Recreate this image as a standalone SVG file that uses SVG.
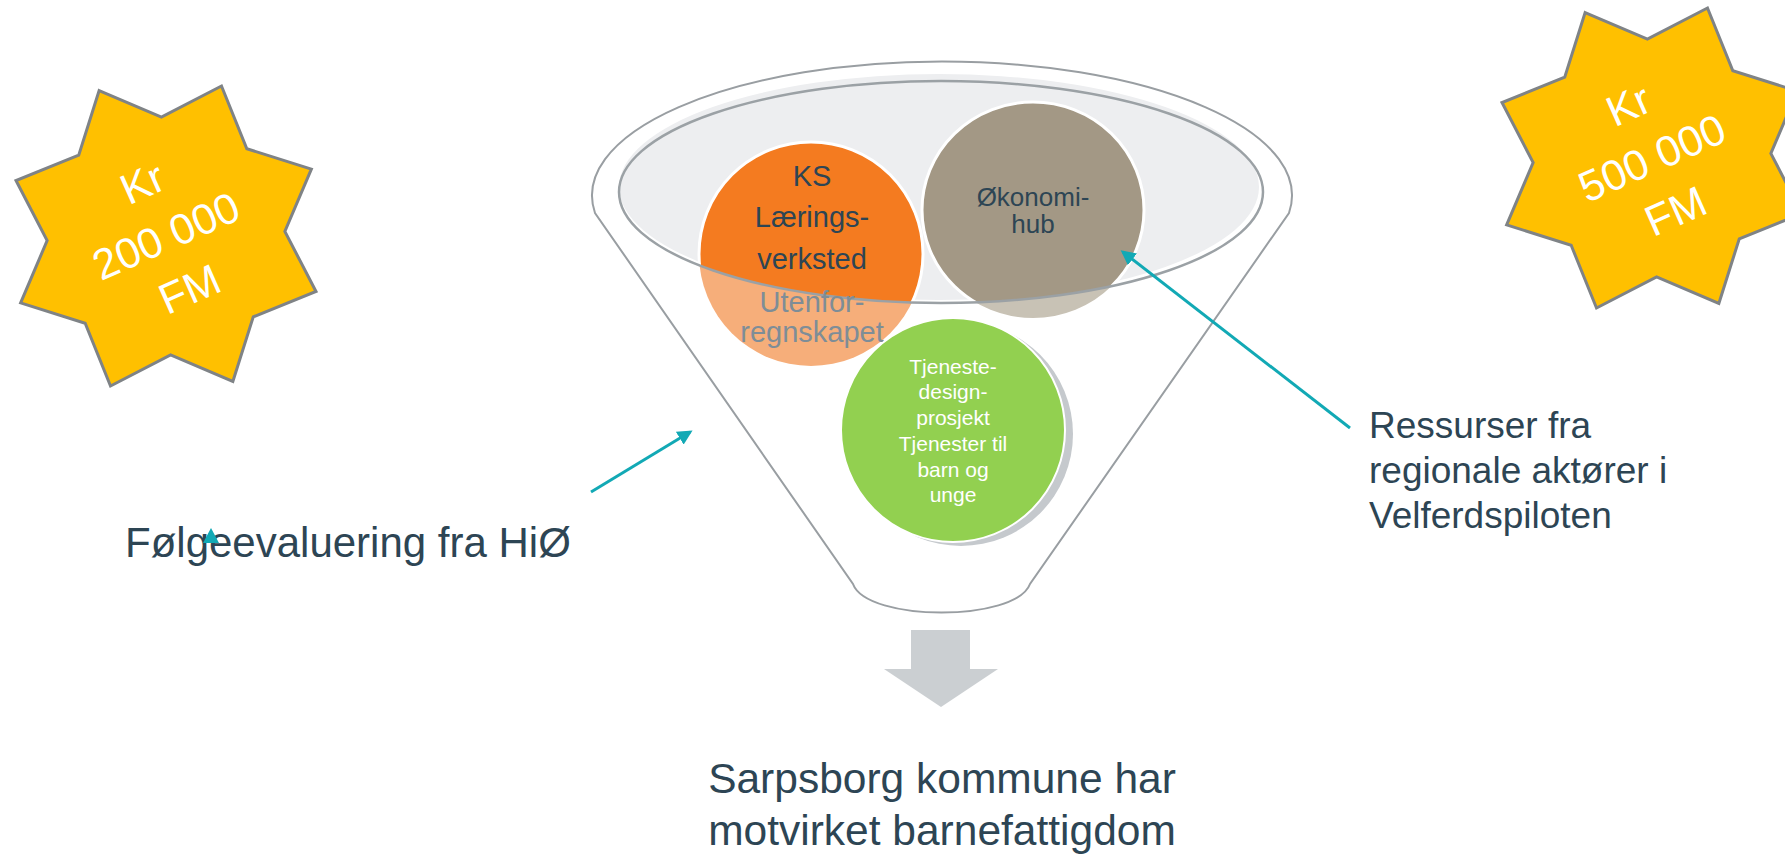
<svg xmlns="http://www.w3.org/2000/svg" width="1785" height="855" viewBox="0 0 1785 855">
<style>
.t{font-family:"Liberation Sans",Arial,sans-serif;}
.dark{fill:#2D4554;}
.star{fill:#FFC000;stroke:#7F8386;stroke-width:3;stroke-linejoin:miter;}
.startxt{fill:#FFFFFF;font-size:43px;text-anchor:middle;}
.teal{stroke:#12A9B5;stroke-width:3;fill:none;}
</style>
<defs>
<marker id="ah" viewBox="0 0 10 10" refX="8" refY="5" markerWidth="5" markerHeight="5" orient="auto" markerUnits="strokeWidth">
<path d="M0,0 L10,5 L0,10 z" fill="#12A9B5"/>
</marker>
<clipPath id="rim"><ellipse cx="941" cy="192" rx="322" ry="111"/></clipPath>
</defs>
<rect width="1785" height="855" fill="#FFFFFF"/>

<g id="funnel">
<path d="M595,213 A350,134 0 1 1 1289,213 L1030,584 C1016,622 867,622 853,584 Z" fill="#FFFFFF" stroke="#999EA2" stroke-width="2"/>
<ellipse cx="939" cy="187" rx="320" ry="113" fill="#EDEEF0"/>
</g>

<g id="node-ks">
<circle cx="811" cy="254" r="112" fill="#F6AE7A"/>
<circle cx="811" cy="254" r="112" fill="#F47B20" stroke="#FFFFFF" stroke-width="3" clip-path="url(#rim)"/>
</g>
<g id="node-okonomi">
<ellipse cx="1033" cy="210" rx="111" ry="108" fill="#C8C2B5"/>
<ellipse cx="1033" cy="210" rx="111" ry="108" fill="#A39885" stroke="#FFFFFF" stroke-width="3" clip-path="url(#rim)"/>
</g>

<ellipse id="funnel-rim" cx="941" cy="192" rx="322" ry="111" fill="none" stroke="#9BA1A5" stroke-width="2.5"/>

<g id="node-ks-text" class="t" text-anchor="middle" font-size="29">
<text x="812" y="186" class="dark">KS</text>
<text x="812" y="227" class="dark">Lærings-</text>
<text x="812" y="269" class="dark">verksted</text>
<text x="812" y="312" fill="#7E8D97">Utenfor-</text>
<text x="812" y="342" fill="#7E8D97">regnskapet</text>
</g>
<g id="node-okonomi-text" class="t dark" text-anchor="middle" font-size="26">
<text x="1033" y="206">Økonomi-</text>
<text x="1033" y="233">hub</text>
</g>

<g id="node-tjeneste">
<circle cx="961" cy="434" r="112" fill="#C5C9CD"/>
<circle cx="953" cy="430" r="112" fill="#92D050" stroke="#FFFFFF" stroke-width="2"/>
<g class="t" fill="#FFFFFF" font-size="21" text-anchor="middle">
<text x="953" y="374">Tjeneste-</text>
<text x="953" y="399">design-</text>
<text x="953" y="425">prosjekt</text>
<text x="953" y="451">Tjenester til</text>
<text x="953" y="477">barn og</text>
<text x="953" y="502">unge</text>
</g>
</g>

<g id="star-200" transform="translate(166,236)">
<polygon class="star" transform="rotate(-24.7)" points="0,-160 45.5,-109.9 113.1,-113.1 109.9,-45.5 160,0 109.9,45.5 113.1,113.1 45.5,109.9 0,160 -45.5,109.9 -113.1,113.1 -109.9,45.5 -160,0 -109.9,-45.5 -113.1,-113.1 -45.5,-109.9"/>
<g transform="rotate(-24)" class="t startxt">
<text x="0" y="-43">Kr</text>
<text x="0" y="15">200 000</text>
<text x="0" y="73">FM</text>
</g>
</g>

<g id="star-500" transform="translate(1652,158)">
<polygon class="star" transform="rotate(-24.7)" points="0,-160 45.5,-109.9 113.1,-113.1 109.9,-45.5 160,0 109.9,45.5 113.1,113.1 45.5,109.9 0,160 -45.5,109.9 -113.1,113.1 -109.9,45.5 -160,0 -109.9,-45.5 -113.1,-113.1 -45.5,-109.9"/>
<g transform="rotate(-24)" class="t startxt">
<text x="0" y="-43">Kr</text>
<text x="0" y="15">500 000</text>
<text x="0" y="73">FM</text>
</g>
</g>

<g id="label-folge" class="t dark" font-size="42">
<text x="125" y="557">Følgeevaluering fra HiØ</text>
</g>

<g id="label-ressurser" class="t dark" font-size="37">
<text x="1369" y="438">Ressurser fra</text>
<text x="1369" y="483">regionale aktører i</text>
<text x="1369" y="528">Velferdspiloten</text>
</g>

<g id="result">
<polygon points="911,630 970,630 970,669 998,669 941,707 884,669 911,669" fill="#CBCFD2"/>
<g class="t dark" font-size="42.5" text-anchor="middle">
<text x="942" y="793">Sarpsborg kommune har</text>
<text x="942" y="845">motvirket barnefattigdom</text>
</g>
</g>

<g id="connectors">
<line class="teal" x1="591" y1="492" x2="690" y2="432" marker-end="url(#ah)"/>
<line class="teal" x1="1350" y1="428" x2="1123" y2="252" marker-end="url(#ah)"/>
<polygon points="211,528 219,543 203,543" fill="#12A9B5"/>
</g>
</svg>
